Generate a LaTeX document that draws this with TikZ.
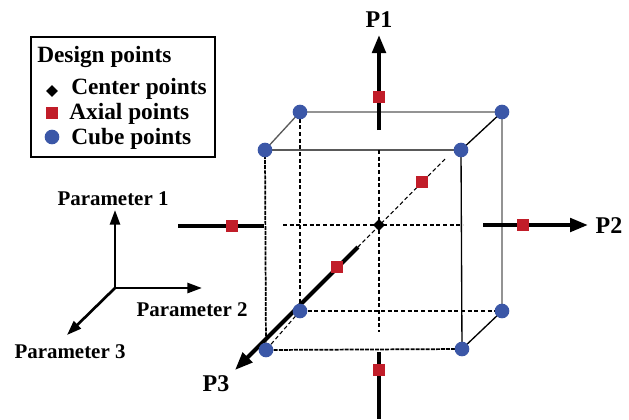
\documentclass[tikz,border=0pt]{standalone}
\usepackage{fontspec}
\setmainfont{Liberation Serif}
\usetikzlibrary{positioning, shapes.geometric, arrows.meta}
\definecolor{cubeblue}{RGB}{59,87,167}
\definecolor{axialred}{RGB}{193,29,41}
\tikzset{
  cubept/.style={circle, fill=cubeblue, inner sep=0pt, minimum size=11pt},
  axialpt/.style={rectangle, fill=axialred, inner sep=0pt, minimum size=9.5pt},
  centerpt/.style={diamond, fill=black, inner sep=0pt, minimum size=9pt},
  cubeedge/.style={line width=1pt},
  backedge/.style={line width=1pt, black!65},
  frontdash/.style={line width=1.3pt, dash pattern=on 3pt off 0.8pt},
  hidden/.style={line width=0.8pt, dash pattern=on 3pt off 2pt},
  thickaxis/.style={line width=3pt},
  axisarrow/.style={line width=3pt, -{Triangle[length=13.5pt,width=10pt]}},
  paramarrow/.style={line width=2pt, -{Triangle[length=11pt,width=7.5pt]}},
  lbl/.style={font=\fontsize{15.7}{18}\selectfont\bfseries, inner sep=0pt},
  leglbl/.style={font=\fontsize{17.5}{20}\selectfont\bfseries, inner sep=0pt, anchor=west},
  axlbl/.style={font=\fontsize{18}{21}\selectfont\bfseries, inner sep=0pt}
}

\begin{document}
\begin{tikzpicture}[x=0.75pt, y=-0.75pt]
\useasboundingbox (0,0) rectangle (629,419);

%% Cube corners
\coordinate (bTL) at (300,112);
\coordinate (bTR) at (502,112);
\coordinate (bBR) at (502,311);
\coordinate (bBL) at (300,311);
\coordinate (fTL) at (265,150);
\coordinate (fTR) at (461,150);
\coordinate (fBR) at (462,349);
\coordinate (fBL) at (266,350);
\coordinate (ctr) at (379,225);

%% Hidden edges and inner guides
\draw[hidden] (bTL) -- (bBL) -- (bBR);
\draw[hidden] (bBL) -- (fBL);
\draw[hidden] (379,150) -- (379,332);
\draw[hidden] (283,225) -- (463,225);
\draw[hidden] (445,159) -- (358,247);

%% Visible edges
\draw[backedge] (fTL) -- (bTL) -- (bTR) -- (bBR);
\draw[cubeedge] (fTR) -- (bTR);
\draw[cubeedge] (fBR) -- (bBR);
\draw[cubeedge] (fTL) -- (fTR) -- (fBR);
\draw[frontdash] (fTL) -- (fBL) -- (fBR);

%% Axes
\coordinate (p1top) at (379,130);
\coordinate (p1tip) at (379,35);
\coordinate (p1bot) at (379,352);
\coordinate (p1end) at (379,419);
\coordinate (p2lft) at (178,226);
\coordinate (p2lend) at (264,226);
\coordinate (p2rgt) at (483,225);
\coordinate (p2tip) at (588,225);
\coordinate (p3beg) at (358,247);
\coordinate (p3tip) at (235,370);
\draw[axisarrow] (p1top) -- (p1tip);
\draw[thickaxis] (p1bot) -- (p1end);
\draw[thickaxis] (p2lft) -- (p2lend);
\draw[axisarrow] (p2rgt) -- (p2tip);
\draw[axisarrow] (p3beg) -- (p3tip);

\node[axlbl] (lP1) at (379,20) {P1};
\node[axlbl] (lP2) at (609,226) {P2};
\node[axlbl] (lP3) at (216,384) {P3};

%% Design points
\foreach \c in {bTL,bTR,bBR,bBL,fTL,fTR,fBR,fBL}
  \node[cubept] at (\c) {};
\node[axialpt] (a1) at (379,97) {};
\node[axialpt] (a2) at (379,370) {};
\node[axialpt] (a3) at (232,226) {};
\node[axialpt] (a4) at (523,225) {};
\node[axialpt] (a5) at (422,182) {};
\node[axialpt] (a6) at (337,267) {};
\node[centerpt] (cp) at (ctr) {};

%% Parameter directions
\coordinate (org) at (115,288);
\coordinate (par1) at (115,210);
\coordinate (par2) at (202,288);
\coordinate (par3) at (67,335);
\draw[paramarrow] (org) -- (par1);
\draw[paramarrow] (org) -- (par2);
\draw[paramarrow] (org) -- (par3);
\node[lbl] (lpar1) at (113,199) {Parameter 1};
\node[lbl] (lpar2) at (192,310) {Parameter 2};
\node[lbl] (lpar3) at (70,352) {Parameter 3};

%% Legend
\draw[line width=1pt] (31,37) rectangle (215,157);
\node[leglbl] (ltitle) at (37,57) {Design points};
\node[centerpt] (lgc) at (52,91) {};
\node[axialpt] (lga) at (52,113) {};
\node[cubept] (lgb) at (52,137) {};
\node[leglbl] (tc) at (71,89) {Center points};
\node[leglbl] (ta) at (69,114) {Axial points};
\node[leglbl] (tb) at (71,139) {Cube points};
\end{tikzpicture}
\end{document}
